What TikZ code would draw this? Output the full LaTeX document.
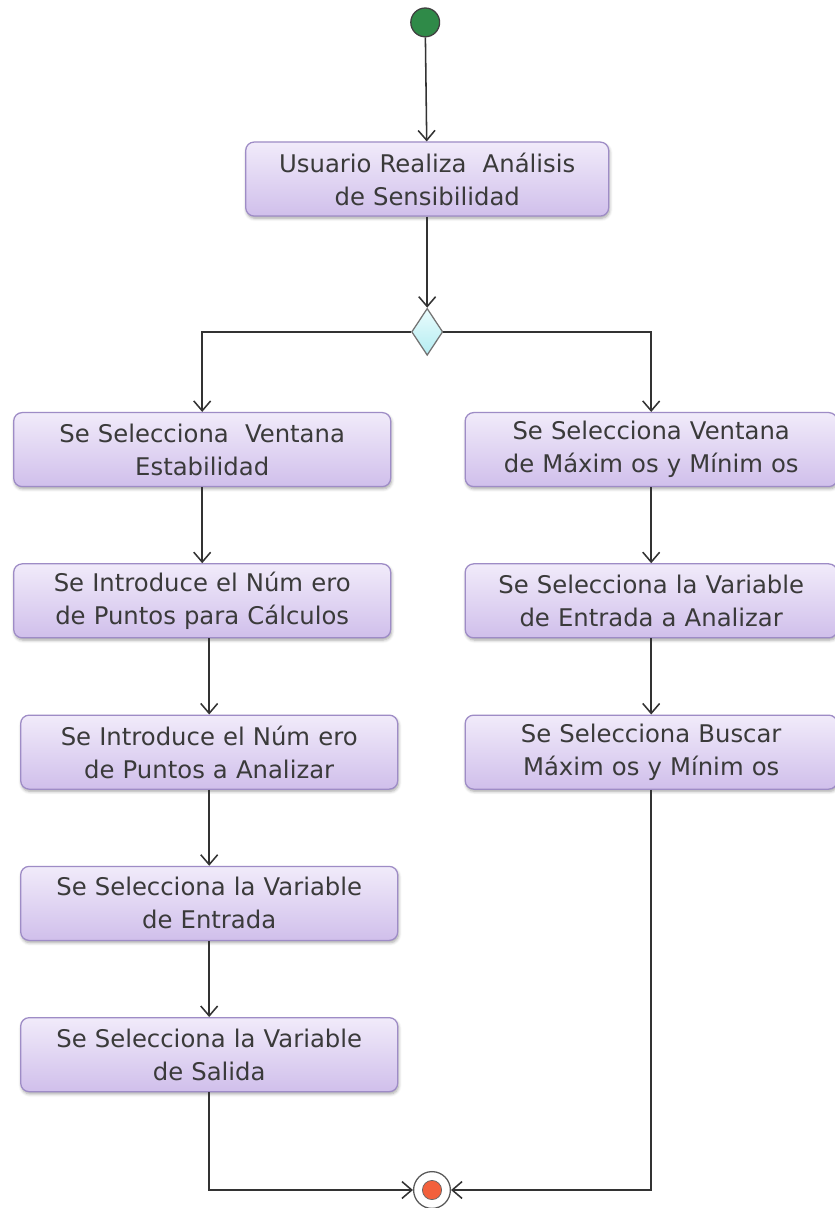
\documentclass[tikz,border=0pt]{standalone}
\usepackage{fontspec}
\setmainfont{DejaVu Sans}
\usetikzlibrary{shapes.geometric, arrows.meta, positioning, shadows.blur}
\definecolor{boxtop}{HTML}{F1EBFA}
\definecolor{boxbot}{HTML}{D0BFEB}
\definecolor{boxline}{HTML}{9E8CC6}
\definecolor{txtcol}{HTML}{3A3A3A}
\definecolor{linecol}{HTML}{333333}
\definecolor{startcol}{HTML}{2F8A48}
\definecolor{decitop}{HTML}{EAFCFD}
\definecolor{decibot}{HTML}{B3ECF1}
\definecolor{endcol}{HTML}{F2603C}

\begin{document}
\begin{tikzpicture}[
  node distance=1.9cm,
  every node/.style={font=\fontsize{17.3pt}{23.5pt}\selectfont, text=txtcol},
  box/.style={
    draw=boxline, rounded corners=6pt, line width=0.9pt,
    top color=boxtop, bottom color=boxbot,
    minimum height=1.85cm, minimum width=9.425cm,
    text centered, text width=8.6cm,
    blur shadow={shadow xshift=0.6pt, shadow yshift=-1.6pt,
                 shadow blur steps=5, shadow opacity=35}
  },
  rightbox/.style={box, minimum width=9.3cm},
  startnode/.style={circle, draw=black!75, fill=startcol, line width=0.9pt,
                    minimum size=0.72cm, inner sep=0pt},
  decibox/.style={diamond, draw=black!55, top color=decitop, bottom color=decibot,
                  line width=0.9pt, minimum width=0.78cm, minimum height=1.175cm,
                  inner sep=0pt, aspect=0.66},
  finishnode/.style={circle, draw=black!65, fill=white, line width=0.9pt,
                     minimum size=0.92cm, inner sep=0pt,
                     path picture={\fill[endcol, draw=black!60, line width=0.5pt]
                       (path picture bounding box.center) circle (0.24cm);}},
  arrow/.style={-{Straight Barb[length=7pt,width=12pt]}, line width=1.1pt,
                color=linecol}
]
\useasboundingbox (0,0) rectangle (20.875,-30.2);

%% ── Start and first activity ─────────────────────────────────
\node[startnode] (start) at (10.63,-0.56) {};
\node[box, minimum width=9.075cm, below=2.6cm of start, xshift=0.05cm] (analisis)
      {Usuario Realiza\ \ Análisis\\de Sensibilidad};
\node[decibox, below=2.275cm of analisis] (decision) {};

%% ── Left branch ──────────────────────────────────────────────
\node[box, below=1.4cm of decision, xshift=-5.625cm] (estab)
      {Se Selecciona\ \ Ventana\\Estabilidad};
\node[box, below=of estab] (npcalc)
      {Se Introduce el Núm ero\\de Puntos para Cálculos};
\node[box, below=of npcalc, xshift=0.175cm] (npanal)
      {Se Introduce el Núm ero\\de Puntos a Analizar};
\node[box, below=of npanal] (varin)
      {Se Selecciona la Variable\\de Entrada};
\node[box, below=of varin] (varout)
      {Se Selecciona la Variable\\de Salida};

%% ── Right branch ─────────────────────────────────────────────
\node[rightbox, below=1.4cm of decision, xshift=5.6cm] (maxmin)
      {Se Selecciona Ventana\\de Máxim os y Mínim os};
\node[rightbox, below=of maxmin] (varan)
      {Se Selecciona la Variable\\de Entrada a Analizar};
\node[rightbox, below=of varan] (buscar)
      {Se Selecciona Buscar\\Máxim os y Mínim os};

%% ── Final node ───────────────────────────────────────────────
\node[finishnode] (finish) at (10.8,-29.75) {};

%% ── Arrows ───────────────────────────────────────────────────
\draw[arrow] (start)    -- (analisis);
\draw[arrow] (analisis) -- (decision);
\draw[arrow] (decision.west) -| (estab.north);
\draw[arrow] (decision.east) -| (maxmin.north);

\draw[arrow] (estab)  -- (npcalc);
\draw[arrow] (npcalc.south -| npanal.north) -- (npanal.north);
\draw[arrow] (npanal) -- (varin);
\draw[arrow] (varin)  -- (varout);

\draw[arrow] (maxmin) -- (varan);
\draw[arrow] (varan)  -- (buscar);

\draw[arrow] (varout.south) |- (finish.west);
\draw[arrow] (buscar.south) |- (finish.east);

\end{tikzpicture}
\end{document}
